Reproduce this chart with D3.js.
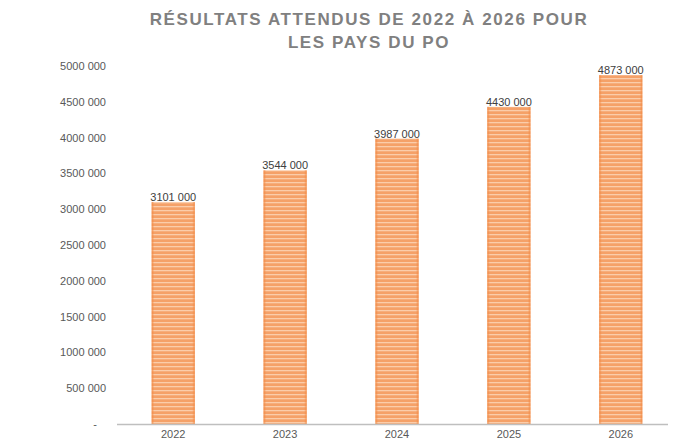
<!DOCTYPE html>
<html>
<head>
<meta charset="utf-8">
<script src="https://cdn.jsdelivr.net/npm/d3@7"></script>
<style>
  body { margin: 0; background: #fff; }
  svg { font-family: "Liberation Sans", Arial, sans-serif; }
</style>
</head>
<body>
<svg id="chart" width="675" height="441"></svg>
<script>
var years = ['2022', '2023', '2024', '2025', '2026'];
var values = [3101000, 3544000, 3987000, 4430000, 4873000];
var yTicks = [0, 500000, 1000000, 1500000, 2000000, 2500000, 3000000, 3500000, 4000000, 4500000, 5000000];
var titleLines = ['RÉSULTATS ATTENDUS DE 2022 À 2026 POUR', 'LES PAYS DU PO'];

var svg = d3.select('#chart');
var margin = { left: 117, right: 0, top: 66, bottom: 17 };
var width = 675, height = 441;

var xScale = d3.scaleBand().domain(years).range([margin.left, 677]).paddingInner(0.615).paddingOuter(0.31);
var yScale = d3.scaleLinear().domain([0, 5000000]).range([424, 66]);

// number format like "3101 000"
function fmt(v) {
    if (v === 0) return '-';
    var s = String(v);
    return s.slice(0, s.length - 3) + ' ' + s.slice(-3);
}

/* Pattern: striped orange */
var defs = svg.append('defs');
var grad = defs.append('linearGradient').attr('id', 'edge').attr('x1', 0).attr('x2', 1).attr('y1', 0).attr('y2', 0);
grad.append('stop').attr('offset', '0%').attr('stop-color', '#f28a45').attr('stop-opacity', 0.9);
grad.append('stop').attr('offset', '6%').attr('stop-color', '#f28a45').attr('stop-opacity', 0);
grad.append('stop').attr('offset', '94%').attr('stop-color', '#f28a45').attr('stop-opacity', 0);
grad.append('stop').attr('offset', '100%').attr('stop-color', '#f28a45').attr('stop-opacity', 0.9);

var pat = defs.append('pattern').attr('id', 'stripes')
    .attr('patternUnits', 'userSpaceOnUse').attr('width', 8).attr('height', 4);
pat.append('rect').attr('width', 8).attr('height', 4).attr('fill', '#f5a168');
pat.append('rect').attr('y', 2).attr('width', 8).attr('height', 1.3).attr('fill', '#fbcdaa');

/* Title */
svg.append('g').selectAll('text')
    .data(titleLines)
    .join('text')
    .attr('x', 369)
    .attr('y', function(d, i) { return 25 + i * 23; })
    .attr('text-anchor', 'middle')
    .attr('font-size', 17)
    .attr('font-weight', 'bold')
    .attr('letter-spacing', 1.6)
    .attr('fill', '#808080')
    .text(function(d) { return d; });

/* Y axis labels */
svg.append('g').selectAll('text')
    .data(yTicks)
    .join('text')
    .attr('x', function(d) { return d === 0 ? 97 : 106; })
    .attr('y', function(d) { return yScale(d) + 4; })
    .attr('text-anchor', 'end')
    .attr('font-size', 11)
    .attr('fill', '#595959')
    .text(fmt);

/* Bars */
var bars = svg.append('g');
bars.selectAll('rect.bar')
    .data(values)
    .join('rect')
    .attr('class', 'bar')
    .attr('x', function(d, i) { return xScale(years[i]); })
    .attr('y', function(d) { return yScale(d); })
    .attr('width', xScale.bandwidth())
    .attr('height', function(d) { return yScale(0) - yScale(d); })
    .attr('fill', 'url(#stripes)');
bars.selectAll('rect.edge')
    .data(values)
    .join('rect')
    .attr('class', 'edge')
    .attr('x', function(d, i) { return xScale(years[i]); })
    .attr('y', function(d) { return yScale(d); })
    .attr('width', xScale.bandwidth())
    .attr('height', function(d) { return yScale(0) - yScale(d); })
    .attr('fill', 'url(#edge)');

/* Value labels */
svg.append('g').selectAll('text')
    .data(values)
    .join('text')
    .attr('x', function(d, i) { return xScale(years[i]) + xScale.bandwidth() / 2; })
    .attr('y', function(d) { return yScale(d) - 1; })
    .attr('text-anchor', 'middle')
    .attr('font-size', 11)
    .attr('fill', '#404040')
    .text(fmt);

/* X axis line */
svg.append('line')
    .attr('x1', margin.left).attr('x2', 668)
    .attr('y1', 424.5).attr('y2', 424.5)
    .attr('stroke', '#bfbfbf').attr('stroke-width', 1.5);

/* X labels */
svg.append('g').selectAll('text')
    .data(years)
    .join('text')
    .attr('x', function(d) { return xScale(d) + xScale.bandwidth() / 2; })
    .attr('y', 438)
    .attr('text-anchor', 'middle')
    .attr('font-size', 11)
    .attr('fill', '#595959')
    .text(function(d) { return d; });
</script>
</body>
</html>
